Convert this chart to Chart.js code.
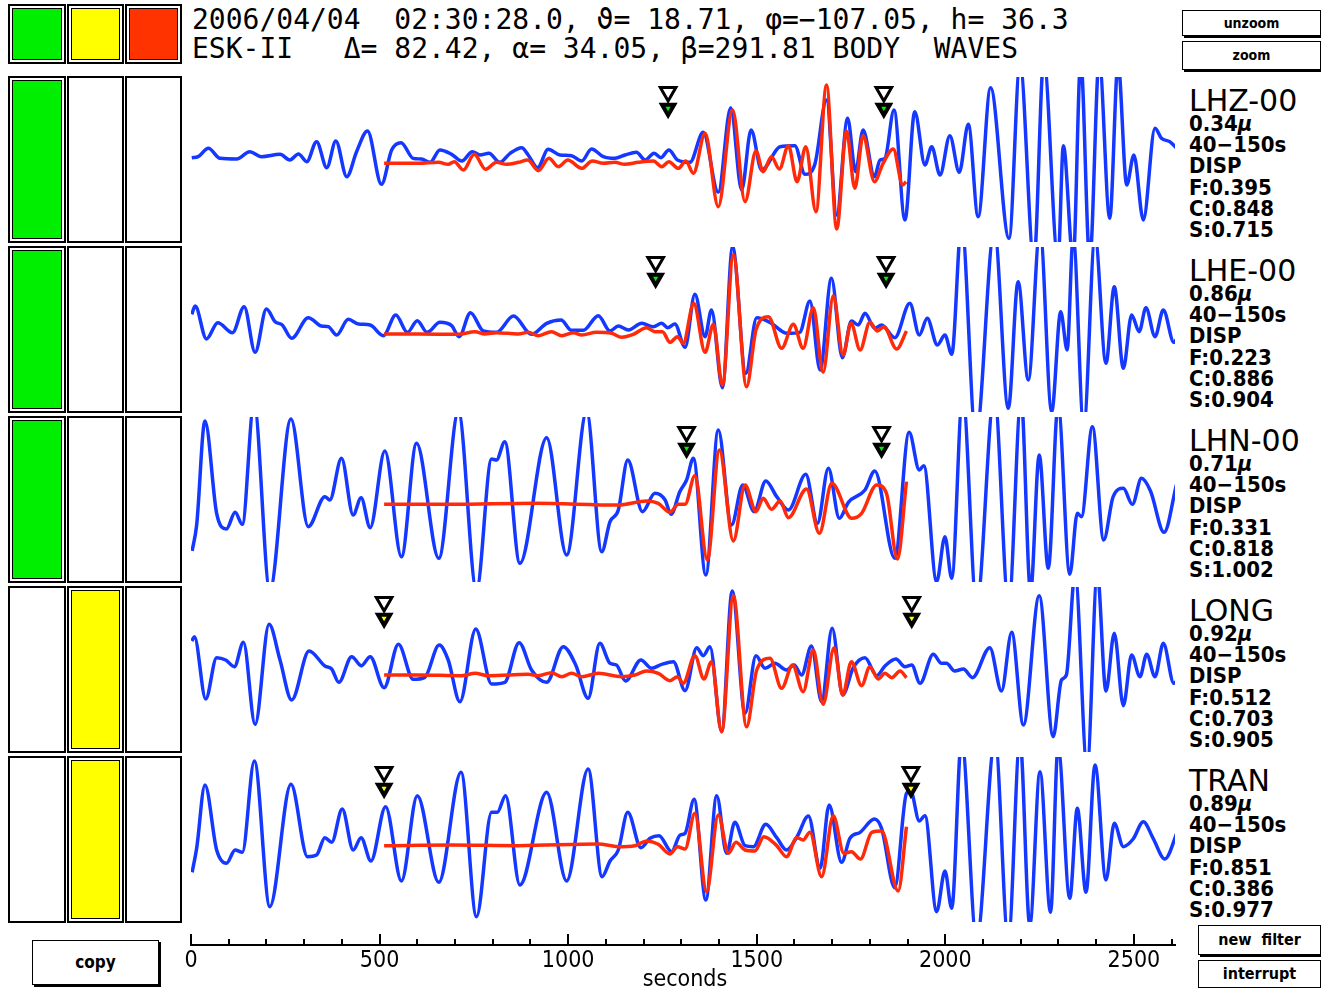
<!DOCTYPE html>
<html>
<head>
<meta charset="utf-8">
<title>ESK-II body waves</title>
<script src="https://cdn.jsdelivr.net/npm/chart.js@4.4.1/dist/chart.umd.min.js"></script>
<style>
  html, body { margin: 0; padding: 0; background: #fff; }
  #page { position: relative; width: 1321px; height: 988px; overflow: hidden; }
  .frame { position: absolute; box-sizing: border-box; border: 2px solid #000; background: #fff; }
  .frame .fill { position: absolute; left: 2px; top: 2px; right: 2px; bottom: 2px; border: 1px solid #000; }
  .hdr { position: absolute; left: 192px; font: 28px/28px 'DejaVu Sans Mono', monospace; white-space: pre; color: #000; }
  .sta { position: absolute; left: 1189px; font: 30px/30px 'DejaVu Sans', sans-serif; white-space: pre; }
  .info { position: absolute; left: 1189px; font: bold 22px/21.2px 'DejaVu Sans Condensed', 'DejaVu Sans', sans-serif; white-space: pre; }
  .xlab { position: absolute; left: 585px; width: 200px; text-align: center; font: 23px/23px 'DejaVu Sans Condensed', 'DejaVu Sans', sans-serif; }
  .btn { position: absolute; box-sizing: border-box; border: 1px solid #000; box-shadow: 2px 2px 0 #000; background: #fff;
         font-family: 'DejaVu Sans Condensed', 'DejaVu Sans', sans-serif; font-weight: bold; text-align: center; }
  canvas { position: absolute; }
</style>
</head>
<body>
<div id="page"></div>
<script>
// ---- data (seconds, amplitude) ----
const T_MAX = 2609;
const majorTicks = [0, 500, 1000, 1500, 2000, 2500];
const minorTicks = [100, 200, 300, 400, 600, 700, 800, 900, 1100, 1200, 1300, 1400, 1600, 1700, 1800, 1900, 2100, 2200, 2300, 2400, 2600];

const lhzBlue = [[2,7],[19,10],[46,35],[77,5],[121,3],[156,25],[187,10],[236,17],[262,0],[285,18],[307,-5],[333,55],[360,-23],[384,57],[413,-50],[439,25],[468,87],[505,-73],[532,30],[557,52],[589,5],[611,3],[634,-7],[660,30],[691,17],[718,-3],[746,25],[766,15],[790,20],[819,-7],[846,20],[877,37],[894,15],[919,-23],[947,32],[978,15],[1009,13],[1036,-3],[1062,33],[1093,10],[1124,5],[1151,15],[1181,23],[1204,0],[1228,20],[1246,7],[1267,30],[1290,0],[1323,-7],[1358,83],[1398,-97],[1431,157],[1460,-90],[1485,90],[1513,-30],[1562,40],[1601,43],[1628,-43],[1654,-13],[1685,180],[1712,-165],[1741,125],[1762,-35],[1782,90],[1812,-50],[1827,0],[1840,5],[1864,150],[1893,-180],[1919,145],[1946,-15],[1964,40],[1986,-45],[2012,73],[2037,-37],[2061,107],[2087,-170],[2120,217],[2169,-235],[2198,290],[2235,-300],[2261,300],[2299,-300],[2313,43],[2339,-300],[2359,300],[2383,-300],[2408,300],[2436,-175],[2458,290],[2481,-75],[2500,15],[2525,-180],[2556,95],[2573,65],[2595,55],[2618,30]];
const lhzRed = [[512,-10],[603,-10],[656,-7],[682,-13],[698,-5],[722,-30],[751,17],[781,-28],[810,-7],[837,-13],[868,-7],[893,0],[921,-32],[949,5],[974,-20],[999,0],[1036,-25],[1064,-3],[1093,-10],[1124,-7],[1150,-13],[1186,-7],[1226,-3],[1248,-20],[1267,-5],[1292,-25],[1312,-3],[1332,-40],[1363,80],[1398,-140],[1436,150],[1469,-125],[1498,27],[1517,-35],[1539,10],[1560,-27],[1584,43],[1607,-65],[1630,40],[1657,-155],[1685,225],[1712,-207],[1738,87],[1760,-85],[1782,73],[1812,-65],[1835,-10],[1862,33],[1887,-75],[1896,-65]];

const lheBlue = [[2,47],[11,72],[41,-27],[71,22],[110,-8],[141,70],[170,-67],[200,63],[223,25],[242,15],[267,-25],[311,37],[346,12],[364,10],[386,-15],[417,32],[444,18],[475,15],[510,-17],[543,45],[574,-7],[600,28],[626,-7],[660,23],[691,13],[711,-20],[741,52],[775,-3],[810,-7],[855,42],[903,-13],[943,20],[981,30],[1009,-1],[1040,-1],[1080,43],[1111,-3],[1133,12],[1160,0],[1195,20],[1226,10],[1248,20],[1264,7],[1283,18],[1310,-52],[1336,107],[1363,-20],[1380,60],[1409,-173],[1436,250],[1471,-130],[1500,37],[1535,23],[1581,-10],[1614,-7],[1641,87],[1668,-120],[1698,155],[1727,-83],[1751,27],[1769,15],[1787,50],[1813,5],[1831,15],[1866,-23],[1906,80],[1931,-15],[1952,35],[1979,-45],[1999,-15],[2017,-73],[2043,320],[2081,-320],[2130,300],[2167,-235],[2193,145],[2220,-150],[2251,300],[2282,-245],[2306,55],[2323,-60],[2339,280],[2367,-290],[2397,280],[2426,-100],[2448,130],[2472,-115],[2494,45],[2514,-5],[2532,67],[2556,-20],[2578,60],[2606,-37],[2622,-3]];
const lheRed = [[512,-12],[603,-12],[709,-13],[753,-5],[779,-12],[810,-8],[868,-12],[894,-7],[921,-17],[956,-5],[983,-17],[1014,-8],[1036,-15],[1075,-7],[1115,-10],[1142,-22],[1173,-13],[1208,7],[1230,-5],[1250,-5],[1270,-37],[1290,-20],[1305,-40],[1333,80],[1363,-67],[1385,17],[1409,-165],[1438,225],[1473,-170],[1498,0],[1531,40],[1566,-55],[1597,17],[1623,-55],[1650,67],[1676,-127],[1703,103],[1729,-75],[1750,20],[1774,-60],[1800,23],[1820,-3],[1837,10],[1871,-57],[1897,-3]];

const lhnBlue = [[3,-153],[15,-75],[37,237],[68,-40],[94,-87],[117,-37],[136,-73],[167,290],[209,-270],[265,243],[311,-80],[355,10],[368,0],[399,125],[430,-45],[451,7],[475,-83],[514,147],[558,-170],[598,170],[657,-175],[709,265],[757,-270],[797,123],[810,120],[832,175],[872,-190],[943,187],[996,-165],[1049,265],[1089,-155],[1111,-65],[1133,-30],[1158,120],[1197,-35],[1230,20],[1257,0],[1273,-43],[1296,25],[1314,60],[1332,125],[1365,-225],[1398,210],[1433,-75],[1463,45],[1493,-35],[1524,57],[1553,10],[1584,-30],[1630,77],[1661,-70],[1690,95],[1719,-55],[1743,-7],[1787,30],[1813,87],[1866,-175],[1904,203],[1931,90],[1943,103],[1977,-245],[1999,-110],[2017,-235],[2046,315],[2083,-315],[2130,315],[2168,-315],[2201,305],[2226,-275],[2249,135],[2273,-205],[2299,285],[2330,-223],[2350,-40],[2361,-50],[2390,220],[2420,-120],[2445,10],[2472,35],[2496,-13],[2520,65],[2544,27],[2580,-97],[2613,47]];
const lhnRed = [[512,-13],[691,-13],[912,-10],[1133,-15],[1208,-3],[1239,-10],[1270,-37],[1292,-13],[1310,-13],[1336,73],[1369,-180],[1401,150],[1438,-123],[1469,45],[1498,-35],[1517,5],[1539,-28],[1562,-3],[1584,-53],[1632,33],[1666,-100],[1699,50],[1752,-55],[1778,-40],[1818,45],[1844,20],[1873,-177],[1897,55]];

const longBlue = [[2,87],[9,100],[39,-87],[68,37],[92,30],[115,10],[139,83],[170,-163],[207,137],[236,30],[267,-90],[313,57],[355,12],[373,3],[392,-37],[426,40],[452,13],[475,40],[512,-53],[550,77],[589,-28],[620,-22],[658,75],[682,30],[713,-95],[755,123],[797,-42],[832,-37],[870,82],[903,0],[943,-37],[987,70],[1020,15],[1053,-85],[1084,80],[1111,20],[1128,15],[1152,-33],[1193,30],[1221,5],[1248,17],[1279,25],[1310,-62],[1341,67],[1358,43],[1376,70],[1407,-185],[1435,237],[1469,-130],[1498,43],[1522,5],[1548,20],[1579,0],[1599,15],[1619,-15],[1645,72],[1672,-95],[1700,125],[1728,-75],[1756,7],[1787,37],[1818,-17],[1840,12],[1869,33],[1893,10],[1911,15],[1933,-40],[1968,47],[1990,20],[2003,20],[2025,-3],[2048,3],[2072,-23],[2118,67],[2149,-63],[2176,113],[2207,-165],[2249,223],[2286,-200],[2308,-30],[2321,-15],[2344,290],[2376,-290],[2403,290],[2426,-63],[2448,110],[2472,-107],[2494,45],[2516,-20],[2534,47],[2556,-20],[2578,80],[2606,-40],[2622,-15]];
const longRed = [[512,-15],[603,-15],[718,-17],[753,-10],[788,-17],[894,-13],[921,-17],[956,-8],[983,-20],[1009,-10],[1036,-20],[1080,-10],[1142,-20],[1177,-15],[1208,-3],[1239,-10],[1270,-32],[1290,-20],[1305,-40],[1336,43],[1360,-27],[1380,25],[1407,-185],[1438,223],[1473,-170],[1500,0],[1535,35],[1566,-55],[1595,15],[1623,-65],[1650,60],[1676,-103],[1705,67],[1728,-75],[1751,25],[1778,-47],[1800,10],[1822,-27],[1840,-10],[1858,-23],[1880,-3],[1897,-23]];

const tranBlue = [[3,-97],[15,-25],[37,165],[68,-30],[94,-70],[117,-30],[136,-37],[168,237],[209,-200],[265,167],[309,-50],[333,-45],[355,7],[373,-7],[401,93],[430,-30],[451,7],[477,-63],[516,100],[558,-123],[600,133],[657,-127],[716,203],[757,-230],[797,83],[812,83],[834,133],[872,-135],[943,143],[996,-123],[1053,213],[1090,-110],[1111,-63],[1133,-30],[1158,83],[1193,-23],[1217,5],[1241,13],[1274,-35],[1297,15],[1310,20],[1334,122],[1365,-180],[1394,133],[1420,-40],[1442,53],[1469,-17],[1491,-20],[1524,47],[1553,7],[1579,-30],[1607,10],[1637,72],[1668,-85],[1692,105],[1725,-67],[1747,5],[1774,23],[1812,63],[1831,35],[1866,-143],[1897,140],[1908,147],[1931,57],[1946,73],[1977,-215],[1999,-93],[2017,-205],[2043,300],[2083,-300],[2132,300],[2167,-300],[2198,300],[2224,-255],[2251,205],[2279,-217],[2299,280],[2330,-175],[2350,95],[2373,-157],[2397,225],[2426,-120],[2448,50],[2472,-20],[2498,3],[2525,55],[2551,5],[2582,-57],[2617,30]];
const tranRed = [[512,-17],[691,-15],[868,-17],[1080,-12],[1133,-20],[1177,-17],[1208,-3],[1239,-13],[1270,-42],[1290,-20],[1310,-27],[1336,80],[1367,-155],[1398,75],[1425,-40],[1445,-7],[1469,-30],[1495,-33],[1519,10],[1553,-17],[1579,-50],[1606,7],[1623,0],[1641,23],[1672,-110],[1703,73],[1731,-40],[1751,-35],[1775,-57],[1805,23],[1831,27],[1875,-153],[1897,40]];

const channels = ['LHZ-00', 'LHE-00', 'LHN-00', 'LONG', 'TRAN'];
const amps = ['0.34', '0.86', '0.71', '0.92', '0.89'];
const fits = ['0.395', '0.223', '0.331', '0.512', '0.851'];
const corrs = ['0.848', '0.886', '0.818', '0.703', '0.386'];
const scales = ['0.715', '0.904', '1.002', '0.905', '0.977'];
const picks = [[1265, 1837], [1232, 1843], [1314, 1831], [512, 1911], [512, 1909]];
const status = [0, 0, 0, 1, 1]; // 0 = green column, 1 = yellow column
const blueTraces = [lhzBlue, lheBlue, lhnBlue, longBlue, tranBlue];
const redTraces = [lhzRed, lheRed, lhnRed, longRed, tranRed];

const BLUE = '#1438ff';
const RED = '#ff2a0a';
const GREEN = '#00ee00';
const YELLOW = '#ffff00';
const ORANGE = '#ff3300';

const page = document.getElementById('page');

function el(cls, css, html) {
  const d = document.createElement('div');
  d.className = cls;
  Object.assign(d.style, css);
  if (html !== undefined) d.innerHTML = html;
  page.appendChild(d);
  return d;
}

function frame(left, top, w, h, color) {
  const f = el('frame', { left: left + 'px', top: top + 'px', width: w + 'px', height: h + 'px' });
  if (color) {
    const inner = document.createElement('div');
    inner.className = 'fill';
    inner.style.background = color;
    f.appendChild(inner);
  }
}

// colour legend boxes and header text
const cols = [[8, 58], [67, 57], [125, 57]];
[GREEN, YELLOW, ORANGE].forEach((c, i) => frame(cols[i][0], 4, cols[i][1], 60, c));
el('hdr', { top: '6px' }, '2006/04/04  02:30:28.0, \u03d1= 18.71, \u03c6=\u2212107.05, h= 36.3');
el('hdr', { top: '35px' }, 'ESK-II   \u0394= 82.42, \u03b1= 34.05, \u03b2=291.81 BODY  WAVES');

el('btn', { left: '1182px', top: '10px', width: '139px', height: '26px', font: 'bold 14px/24px "DejaVu Sans Condensed", "DejaVu Sans"' }, 'unzoom');
el('btn', { left: '1182px', top: '41px', width: '139px', height: '29px', font: 'bold 14px/27px "DejaVu Sans Condensed", "DejaVu Sans"' }, 'zoom');
el('btn', { left: '32px', top: '940px', width: '127px', height: '45px', font: 'bold 17px/43px "DejaVu Sans Condensed", "DejaVu Sans"' }, 'copy');
el('btn', { left: '1198px', top: '925px', width: '123px', height: '30px', font: 'bold 16px/28px "DejaVu Sans Condensed", "DejaVu Sans"' }, 'new&nbsp; filter');
el('btn', { left: '1198px', top: '960px', width: '123px', height: '28px', font: 'bold 16px/26px "DejaVu Sans Condensed", "DejaVu Sans"' }, 'interrupt');

// ---- trace panels ----
const PANEL_TOP = [77, 247, 417, 587, 757];
const PANEL_H = 165;

function toXY(arr) {
  return arr.map(([x, y]) => ({ x, y }));
}

channels.forEach((name, i) => {
  const top = PANEL_TOP[i];
  cols.forEach((c, k) => frame(c[0], top - 1, c[1], PANEL_H + 2, k === status[i] ? (status[i] === 0 ? GREEN : YELLOW) : null));

  el('sta', { top: (top + 9) + 'px' }, name);
  el('info', { top: (top + 36) + 'px' },
    amps[i] + '<i>\u03bc</i>\n40\u2212150s\nDISP\nF:' + fits[i] + '\nC:' + corrs[i] + '\nS:' + scales[i]);

  const cv = document.createElement('canvas');
  cv.width = 984;
  cv.height = PANEL_H;
  cv.style.left = '191px';
  cv.style.top = top + 'px';
  page.appendChild(cv);

  const pickColor = status[i] === 0 ? GREEN : YELLOW;
  new Chart(cv, {
    type: 'line',
    data: {
      datasets: [
        {
          type: 'scatter',
          data: picks[i].map((t) => ({ x: t, y: 204 })),
          pointStyle: 'triangle', rotation: 180, pointRadius: 9,
          backgroundColor: '#fff', borderColor: '#000', borderWidth: 3,
          clip: false, order: -2,
        },
        {
          type: 'scatter',
          data: picks[i].map((t) => ({ x: t, y: 155 })),
          pointStyle: 'triangle', rotation: 180, pointRadius: 7,
          backgroundColor: pickColor, borderColor: '#000', borderWidth: 4,
          clip: false, order: -1,
        },
        {
          data: toXY(redTraces[i]),
          borderColor: RED, borderWidth: 3.5, pointRadius: 0,
          cubicInterpolationMode: 'monotone', clip: 0, order: 0,
        },
        {
          data: toXY(blueTraces[i]),
          borderColor: BLUE, borderWidth: 3.5, pointRadius: 0,
          cubicInterpolationMode: 'monotone', clip: 0, order: 1,
        },
      ],
    },
    options: {
      responsive: false,
      animation: false,
      events: [],
      layout: { padding: 0, autoPadding: false },
      plugins: { legend: { display: false }, tooltip: { enabled: false } },
      scales: {
        x: { type: 'linear', min: 0, max: T_MAX, display: false },
        y: { min: -246, max: 249, display: false },
      },
    },
  });
});

// ---- time axis ----
const axisTicks = {
  id: 'axisTicks',
  afterDraw(chart) {
    const s = chart.scales.x;
    const c = chart.ctx;
    c.save();
    c.strokeStyle = '#000';
    c.lineWidth = 2;
    const mark = (v, len) => {
      const x = Math.round(s.getPixelForValue(v));
      c.beginPath();
      c.moveTo(x, s.top);
      c.lineTo(x, s.top - len);
      c.stroke();
    };
    majorTicks.forEach((v) => mark(v, 11));
    minorTicks.forEach((v) => mark(v, 6));
    c.restore();
  },
};

const ax = document.createElement('canvas');
ax.width = 1024;
ax.height = 60;
ax.style.left = '171px';
ax.style.top = '925px';
page.appendChild(ax);

const axisChart = new Chart(ax, {
  type: 'line',
  data: { datasets: [] },
  options: {
    responsive: false,
    animation: false,
    events: [],
    layout: { padding: { left: 20, right: 20, top: 14, bottom: 0 }, autoPadding: false },
    plugins: { legend: { display: false }, tooltip: { enabled: false } },
    scales: {
      x: {
        type: 'linear', position: 'bottom', min: 0, max: T_MAX,
        afterBuildTicks: (scale) => { scale.ticks = majorTicks.map((v) => ({ value: v })); },
        grid: { display: false },
        border: { display: true, color: '#000', width: 2 },
        ticks: {
          autoSkip: false, maxRotation: 0, padding: -3,
          color: '#000', font: { family: "'DejaVu Sans Condensed', 'DejaVu Sans'", size: 23, lineHeight: 1 },
          callback: (v) => String(v),
        },
      },
      y: { display: false },
    },
  },
  plugins: [axisTicks],
});
ax.style.top = (945 - axisChart.chartArea.bottom) + 'px';
el('xlab', { top: '967px' }, 'seconds');
</script>
</body>
</html>
